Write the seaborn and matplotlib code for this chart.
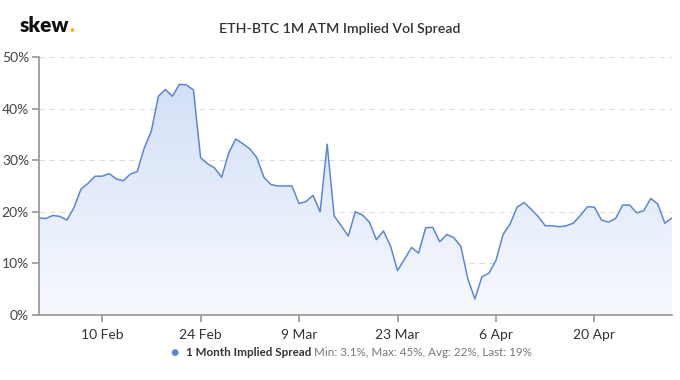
import numpy as np
import pandas as pd
import matplotlib
matplotlib.use("Agg")
import matplotlib.pyplot as plt
import matplotlib.dates as mdates
from matplotlib.ticker import FuncFormatter
import seaborn as sns

# daily 1M ATM implied vol spread, ETH minus BTC (%)
start_date = "2020-02-01"
end_date = "2020-05-01"
spread = [
    18.8, 18.7, 19.3, 19.1, 18.4, 20.8, 24.4, 25.5, 26.9, 26.9,
    27.4, 26.4, 26.0, 27.3, 27.8, 32.4, 35.6, 42.4, 43.7, 42.4,
    44.7, 44.6, 43.6, 30.5, 29.3, 28.5, 26.7, 31.4, 34.1, 33.2,
    32.2, 30.5, 26.7, 25.3, 25.0, 25.0, 25.0, 21.6, 22.0, 23.2,
    20.0, 33.1, 19.2, 17.3, 15.3, 20.0, 19.4, 18.0, 14.6, 16.3,
    13.4, 8.6, 10.8, 13.1, 12.0, 16.9, 17.0, 14.2, 15.6, 15.0,
    13.3, 7.0, 3.1, 7.4, 8.1, 10.6, 15.6, 17.6, 20.9, 21.8,
    20.5, 19.1, 17.3, 17.3, 17.1, 17.3, 17.8, 19.3, 21.0, 20.9,
    18.4, 18.0, 18.7, 21.3, 21.3, 19.8, 20.2, 22.6, 21.5, 17.8,
    18.8,
]
tick_dates = ["2020-02-10", "2020-02-24", "2020-03-09", "2020-03-23", "2020-04-06", "2020-04-20"]
y_ticks = [0, 10, 20, 30, 40, 50]

title = "ETH-BTC 1M ATM Implied Vol Spread"
series_name = "1 Month Implied Spread"
stats_text = "Min: 3.1%, Max: 45%, Avg: 22%, Last: 19%"

line_color = "#5b86d8"

df = pd.DataFrame({"date": pd.date_range(start_date, end_date, freq="D"), "spread": spread})

sns.set_theme(style="white")
plt.rcParams["font.family"] = ["Lato", "DejaVu Sans"]

fig = plt.figure(figsize=(6.8, 3.8), dpi=100)
ax = fig.add_axes([0.057, 0.171, 0.931, 0.679])

sns.lineplot(data=df, x="date", y="spread", color=line_color, linewidth=1.1, ax=ax)

# gradient area under the line
xnum = mdates.date2num(df["date"])
x0, x1 = xnum[0], xnum[-1]
poly = ax.fill_between(df["date"], df["spread"], 0, color="none", linewidth=0)
grad = np.linspace(0, 1, 256).reshape(-1, 1)
cmap = matplotlib.colors.LinearSegmentedColormap.from_list("fade", ["#f7f9fe", "#d3e0f7"])
img = ax.imshow(grad, extent=[x0, x1, 0, 45], origin="lower", aspect="auto", cmap=cmap, zorder=1)
path = poly.get_paths()[0]
img.set_clip_path(path, transform=ax.transData)
ax.get_lines()[0].set_zorder(3)

ax.set_xlim(x0, x1)
ax.set_ylim(0, 50)
ax.set_yticks(y_ticks)
ax.yaxis.set_major_formatter(FuncFormatter(lambda v, p: f"{v:.0f}%"))
ax.set_xticks(pd.to_datetime(tick_dates))
ax.xaxis.set_major_formatter(mdates.DateFormatter("%-d %b"))
ax.grid(axis="y", color="#dddddd", linestyle=(0, (5, 4)), linewidth=0.8)
ax.set_axisbelow(True)
ax.set_xlabel("")
ax.set_ylabel("")

for side in ["top", "right"]:
    ax.spines[side].set_visible(False)
ax.spines["left"].set_color("#999999")
ax.spines["bottom"].set_color("#999999")
ax.tick_params(axis="y", length=5, color="#999999", labelsize=10, labelcolor="#444444", pad=2, left=True)
ax.tick_params(axis="x", length=5, color="#999999", labelsize=10, labelcolor="#333333", pad=5, bottom=True)

fig.text(340 / 680, 1 - 29 / 380, title, ha="center", va="center", fontsize=10.2, color="#333333", fontweight="semibold")

logo = fig.text(20 / 680, 1 - 26 / 380, "skew", ha="left", va="center", fontsize=15, fontweight="heavy", color="#111111")
fig.canvas.draw()
bb = logo.get_window_extent()
fig.text(bb.x1 / 680, 1 - 26 / 380, ".", ha="left", va="center", fontsize=15, fontweight="heavy", color="#f2b705")

# legend line under the chart
fig.text(174 / 680, 1 - 353 / 380, "\u25CF", ha="center", va="center", fontsize=10, color=line_color)
name = fig.text(186 / 680, 1 - 353 / 380, series_name, ha="left", va="center", fontsize=8.4, fontweight="bold", color="#333333")
fig.canvas.draw()
nb = name.get_window_extent()
fig.text((nb.x1 + 3) / 680, 1 - 353 / 380, stats_text, ha="left", va="center", fontsize=8.4, color="#777777")

fig.savefig("out.png", dpi=100)
